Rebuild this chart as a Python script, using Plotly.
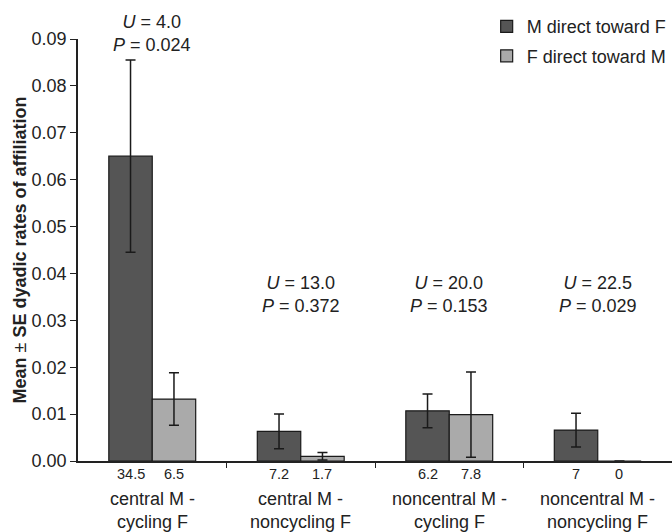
import plotly.graph_objects as go

categories = ["central M -<br>cycling F", "central M -<br>noncycling F",
              "noncentral M -<br>cycling F", "noncentral M -<br>noncycling F"]
m_to_f = [0.0650, 0.0063, 0.0107, 0.0066]
m_to_f_se = [0.0205, 0.0037, 0.0036, 0.0036]
f_to_m = [0.0132, 0.0010, 0.0099, 0.0]
f_to_m_se = [0.0056, 0.0008, 0.0091, None]
n_m = ["34.5", "7.2", "6.2", "7"]
n_f = ["6.5", "1.7", "7.8", "0"]
u_vals = ["4.0", "13.0", "20.0", "22.5"]
p_vals = ["0.024", "0.372", "0.153", "0.029"]
stat_y = [0.0912, 0.0356, 0.0356, 0.0356]
y_ticks = [0.00, 0.01, 0.02, 0.03, 0.04, 0.05, 0.06, 0.07, 0.08, 0.09]
Y_MAX = 0.09

FONT = "Liberation Sans, Arial, sans-serif"
xs = list(range(len(categories)))

fig = go.Figure()
fig.add_trace(go.Bar(
    x=xs, y=m_to_f, name="M direct toward F", legendgroup="a",
    marker=dict(color="#555555", line=dict(color="#1a1a1a", width=1.2)),
    error_y=dict(type="data", array=m_to_f_se, color="#1a1a1a", thickness=1.5, width=5),
))
fig.add_trace(go.Bar(
    x=xs, y=f_to_m, name="F direct toward M", legendgroup="b",
    marker=dict(color="#aaaaaa", line=dict(color="#1a1a1a", width=1.2)),
    error_y=dict(type="data", array=f_to_m_se, color="#1a1a1a", thickness=1.5, width=5),
))

ann = []
half = 0.146
for i, cat in enumerate(categories):
    ann.append(dict(x=i - half, y=0, xref="x", yref="paper", text=n_m[i], showarrow=False,
                    yanchor="middle", yshift=-13, font=dict(size=14.5, color="#222")))
    ann.append(dict(x=i + half, y=0, xref="x", yref="paper", text=n_f[i], showarrow=False,
                    yanchor="middle", yshift=-13, font=dict(size=14.5, color="#222")))
    ann.append(dict(x=i, y=0, xref="x", yref="paper", text=cat, showarrow=False,
                    yanchor="middle", yshift=-49, font=dict(size=18, color="#222")))
    ann.append(dict(x=i, y=stat_y[i] / Y_MAX, xref="x", yref="paper",
                    text="<i>U</i> = %s<br><i>P</i> = %s" % (u_vals[i], p_vals[i]),
                    showarrow=False, yanchor="middle", font=dict(size=18, color="#222")))

fig.update_layout(
    width=672, height=532,
    margin=dict(l=78, r=0, t=39, b=71, autoexpand=False),
    paper_bgcolor="white", plot_bgcolor="white",
    font=dict(family=FONT, size=18, color="#222"),
    barmode="group", bargap=0.415, bargroupgap=0,
    showlegend=True,
    legend=dict(x=0.688, xanchor="left", y=1.073, yanchor="top",
                font=dict(size=18, color="#222"), bgcolor="rgba(0,0,0,0)",
                traceorder="grouped", tracegroupgap=3),
    annotations=ann,
)
fig.update_xaxes(
    range=[-0.5, 3.5], tickvals=[0.5, 1.5, 2.5], ticktext=["", "", ""],
    ticks="outside", ticklen=5, tickwidth=1.2, tickcolor="#222",
    showline=True, linecolor="#222", linewidth=1.5, showgrid=False, zeroline=False,
)
fig.update_yaxes(
    range=[0, Y_MAX], tickvals=y_ticks, tickformat=".2f",
    ticks="outside", ticklen=6, tickwidth=1.2, tickcolor="#222",
    showline=True, linecolor="#222", linewidth=1.5, showgrid=False, zeroline=False,
    tickfont=dict(size=18, color="#222"),
    title=dict(text="<b>Mean</b> ± <b>SE dyadic rates of affiliation</b>",
               font=dict(size=18, color="#222"), standoff=0),
)

fig.write_html("out.html", config={"displayModeBar": False},
               post_script="document.body.style.margin='0px';")
